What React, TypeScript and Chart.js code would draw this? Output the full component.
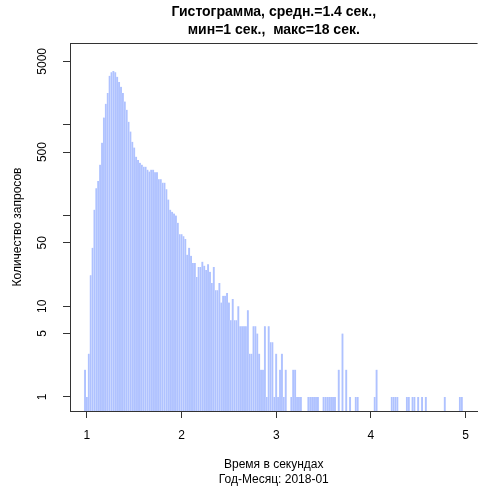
import React, { useEffect, useRef } from 'react';
import { Chart, registerables } from 'chart.js';

Chart.register(...registerables);

// ---- data -----------------------------------------------------------
const TITLE_LINES = ['Гистограмма, средн.=1.4 сек.,', 'мин=1 сек.,  макс=18 сек.'];
const X_TITLE = ['Время в секундах', 'Год-Месяц: 2018-01'];
const Y_TITLE = 'Количество запросов';

// histogram bins: centre of the first bin and bin width (seconds)
const BIN_START = 0.98;
const BIN_WIDTH = 0.02;

// request count per bin (0 = empty bin)
const COUNTS = [
  2, 1, 3, 22, 44, 116, 200, 240, 363, 635,
  1200, 1700, 2240, 3460, 3800, 3900, 3800, 3380, 2960, 2620,
  2240, 1800, 1460, 1080, 840, 650, 560, 445, 410, 380,
  363, 345, 345, 320, 305, 320, 320, 300, 300, 250,
  250, 230, 230, 195, 150, 116, 110, 105, 100, 83,
  62, 62, 59, 55, 37, 44, 36, 30, 30, 21,
  27, 27, 31, 28, 25, 29, 24, 18, 27, 15,
  15, 18, 11, 13, 13, 14, 11, 7, 12, 7,
  7, 10, 6, 6, 6, 6, 9, 3, 3, 6,
  6, 5, 3, 2, 2, 6, 1, 6, 4, 4,
  1, 3, 1, 2, 3, 1, 2, 0, 0, 1,
  2, 2, 1, 1, 1, 0, 0, 0, 1, 1,
  1, 1, 1, 1, 0, 0, 1, 1, 1, 1,
  1, 1, 1, 0, 2, 0, 5, 0, 2, 0,
  1, 0, 0, 1, 1, 0, 0, 0, 0, 0,
  0, 0, 0, 1, 2, 0, 0, 0, 0, 0,
  0, 0, 1, 1, 1, 1, 0, 0, 0, 0,
  1, 1, 0, 1, 1, 0, 1, 0, 1, 0,
  1, 0, 0, 0, 0, 0, 0, 0, 0, 0,
  1, 0, 0, 0, 0, 0, 0, 0, 1, 1,
];

const X_TICKS = [1, 2, 3, 4, 5];
const Y_TICKS = [1, 5, 10, 50, 100, 500, 1000, 5000];
const Y_LABELED = [1, 5, 10, 50, 500, 5000];

const X_MIN = 0.821;
const X_MAX = 5.126;
const Y_MIN = 0.72;
const Y_MAX = 7960;

// ---------------------------------------------------------------------
const FONT = 'Liberation Sans, Arial, Helvetica, sans-serif';
const AXIS_COLOR = '#333333';
const BAR_COLOR = '#afc2ff';

const boxPlugin = {
  id: 'topBox',
  afterDraw(chart: any) {
    const { ctx, chartArea } = chart;
    ctx.save();
    ctx.strokeStyle = AXIS_COLOR;
    ctx.lineWidth = 1;
    ctx.beginPath();
    ctx.moveTo(chartArea.left, Math.round(chartArea.top) + 0.5);
    ctx.lineTo(chartArea.right, Math.round(chartArea.top) + 0.5);
    ctx.stroke();
    ctx.restore();
  },
};

export default function App() {
  const canvasRef = useRef<HTMLCanvasElement | null>(null);

  useEffect(() => {
    const canvas = canvasRef.current;
    if (!canvas) return;
    const points = COUNTS.map((c, i) => ({
      x: BIN_START + i * BIN_WIDTH,
      y: c > 0 ? c : null,
    }));

    const chart = new Chart(canvas, {
      type: 'bar',
      data: {
        datasets: [
          {
            data: points as any,
            backgroundColor: BAR_COLOR,
            borderColor: 'rgba(214,224,255,0.9)',
            borderWidth: { left: 0.35, right: 0, top: 0, bottom: 0 },
            borderSkipped: false,
            barPercentage: 1,
            categoryPercentage: 1,
          },
        ],
      },
      options: {
        animation: false,
        responsive: false,
        maintainAspectRatio: false,
        layout: { padding: 0 },
        plugins: {
          legend: { display: false },
          tooltip: { enabled: false },
          title: {
            display: true,
            text: TITLE_LINES,
            fullSize: false,
            color: '#000',
            font: { family: FONT, size: 14, weight: 'bold', lineHeight: 1.3 },
            padding: { top: 3, bottom: 3.6 },
          },
        },
        scales: {
          x: {
            type: 'linear',
            min: X_MIN,
            max: X_MAX,
            offset: false,
            afterBuildTicks: (scale: any) => {
              scale.ticks = X_TICKS.map((v) => ({ value: v }));
            },
            afterFit: (scale: any) => {
              scale.height = 79;
            },
            grid: {
              display: true,
              offset: false,
              drawOnChartArea: false,
              drawTicks: true,
              tickLength: 7,
              color: AXIS_COLOR,
            },
            border: { display: true, color: AXIS_COLOR, width: 1 },
            ticks: {
              color: '#000',
              font: { family: FONT, size: 12 },
              padding: 10,
              maxRotation: 0,
              autoSkip: false,
              callback: (v: any) => String(v),
            },
            title: {
              display: true,
              text: X_TITLE,
              color: '#000',
              font: { family: FONT, size: 12, lineHeight: 1.25 },
              padding: { top: 0, bottom: 3 },
            },
          },
          y: {
            type: 'logarithmic',
            min: Y_MIN,
            max: Y_MAX,
            afterBuildTicks: (scale: any) => {
              scale.ticks = Y_TICKS.map((v) => ({ value: v }));
            },
            afterFit: (scale: any) => {
              scale.width = 70;
            },
            grid: {
              display: true,
              drawOnChartArea: false,
              drawTicks: true,
              tickLength: 7,
              color: AXIS_COLOR,
            },
            border: { display: true, color: AXIS_COLOR, width: 1 },
            ticks: {
              color: '#000',
              font: { family: FONT, size: 12 },
              minRotation: 90,
              maxRotation: 90,
              crossAlign: 'center',
              padding: 6.5,
              autoSkip: false,
              callback: (v: any) => (Y_LABELED.includes(Number(v)) ? String(v) : ''),
            },
            title: {
              display: true,
              text: Y_TITLE,
              color: '#000',
              font: { family: FONT, size: 12, lineHeight: 1.25 },
              padding: { top: 10.5, bottom: 0 },
            },
          },
        },
      } as any,
      plugins: [boxPlugin],
    });

    return () => chart.destroy();
  }, []);

  return (
    <div style={{ position: 'fixed', left: 0, top: 0, width: 479, height: 490, background: '#fff' }}>
      <canvas ref={canvasRef} width={479} height={490} style={{ display: 'block' }} />
    </div>
  );
}
